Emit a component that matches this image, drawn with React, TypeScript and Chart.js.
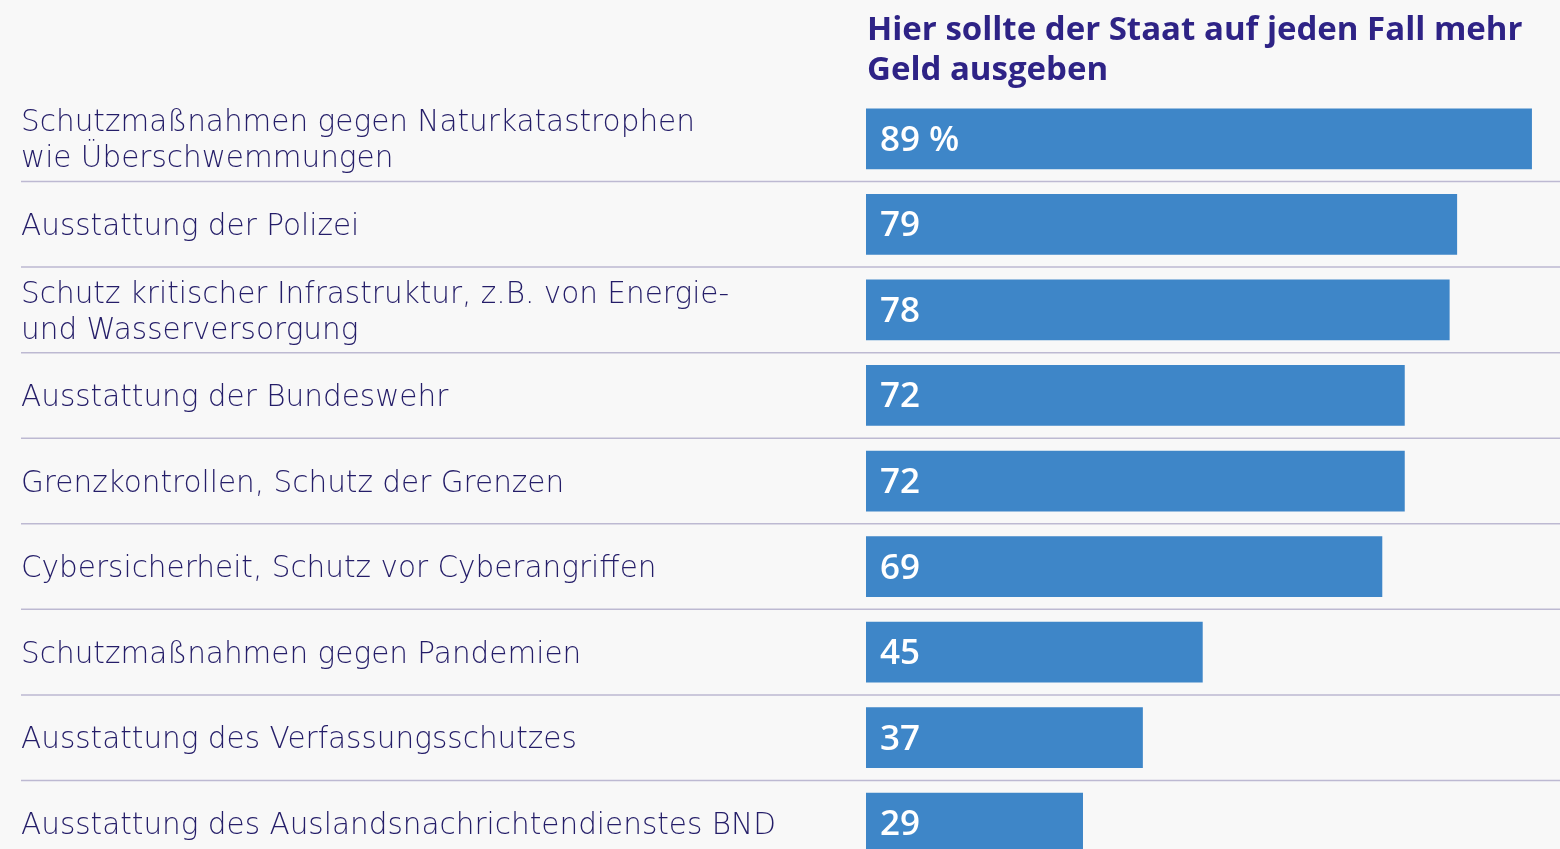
import React, { useEffect, useRef } from "react";
import { Chart, registerables } from "chart.js";

Chart.register(...registerables);

const categories: (string | string[])[] = [
  ["Schutzmaßnahmen gegen Naturkatastrophen", "wie Überschwemmungen"],
  "Ausstattung der Polizei",
  ["Schutz kritischer Infrastruktur, z.B. von Energie-", "und Wasserversorgung"],
  "Ausstattung der Bundeswehr",
  "Grenzkontrollen, Schutz der Grenzen",
  "Cybersicherheit, Schutz vor Cyberangriffen",
  "Schutzmaßnahmen gegen Pandemien",
  "Ausstattung des Verfassungsschutzes",
  "Ausstattung des Auslandsnachrichtendienstes BND",
];
const values: number[] = [89, 79, 78, 72, 72, 69, 45, 37, 29];
const valueLabels: string[] = ["89 %", "79", "78", "72", "72", "69", "45", "37", "29"];
const titleLines: string[] = ["Hier sollte der Staat auf jeden Fall mehr", "Geld ausgeben"];

const BAR = "#3e86c8";
const TEXT = "#241d68";
const TITLE = "#2e2386";
const LINE = "#bdb9d2";
const BG = "#f8f8f8";
const FONT = "'Open Sans', sans-serif";
const LABEL_FONT = "'DejaVu Sans', sans-serif";

export default function App() {
  const ref = useRef<HTMLCanvasElement>(null);
  useEffect(() => {
    if (!ref.current) return;
    const overlay = {
      id: "overlay",
      afterDatasetsDraw(chart: any) {
        const ctx = chart.ctx;
        const y = chart.scales.y;
        const meta = chart.getDatasetMeta(0);
        ctx.save();
        ctx.strokeStyle = LINE;
        ctx.lineWidth = 1.5;
        for (let i = 0; i < categories.length - 1; i++) {
          const py = (y.getPixelForValue(i) + y.getPixelForValue(i + 1)) / 2;
          ctx.beginPath();
          ctx.moveTo(21, py);
          ctx.lineTo(chart.width, py);
          ctx.stroke();
        }
        ctx.fillStyle = "#ffffff";
        ctx.font = `600 35px ${FONT}`;
        ctx.textBaseline = "middle";
        ctx.textAlign = "left";
        meta.data.forEach((bar: any, i: number) => {
          ctx.fillText(valueLabels[i], chart.chartArea.left + 14, bar.y + 2);
        });
        ctx.fillStyle = TITLE;
        ctx.font = `bold 33px ${FONT}`;
        titleLines.forEach((t, i) => {
          ctx.fillText(t, chart.chartArea.left + 1, 31 + i * 40);
        });
        ctx.restore();
      },
    };
    const chart = new Chart(ref.current, {
      type: "bar",
      data: {
        labels: categories,
        datasets: [
          {
            data: values,
            backgroundColor: BAR,
            borderWidth: 0,
            barPercentage: 0.71,
            categoryPercentage: 1,
          },
        ],
      },
      options: {
        indexAxis: "y",
        animation: false,
        responsive: false,
        layout: { padding: { left: 21, top: 96, right: 0, bottom: 0 } },
        plugins: { legend: { display: false }, tooltip: { enabled: false }, title: { display: false } },
        scales: {
          x: { display: false, min: 0, max: 92.75 },
          y: {
            type: "category",
            grid: { display: false },
            border: { display: false },
            afterFit: (s: any) => {
              s.width = 845;
            },
            ticks: {
              crossAlign: "far",
              padding: 0,
              labelOffset: 3,
              color: TEXT,
              font: { family: LABEL_FONT, size: 29.5, weight: "200", lineHeight: 1.22 },
            },
          },
        },
      },
      plugins: [overlay],
    } as any);
    return () => chart.destroy();
  }, []);
  return (
    <div
      style={{
        position: "fixed",
        left: 0,
        top: 0,
        width: 1560,
        height: 849,
        overflow: "hidden",
        background: BG,
      }}
    >
      <canvas ref={ref} width={1560} height={902} style={{ width: 1560, height: 902, display: "block" }} />
    </div>
  );
}
